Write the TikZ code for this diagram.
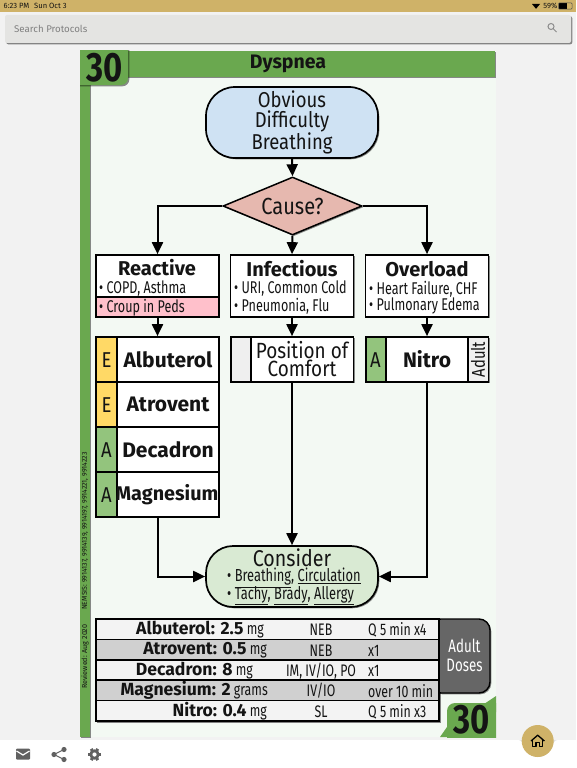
\documentclass[tikz,border=0pt]{standalone}
\usepackage{fontspec}
\usetikzlibrary{shapes.geometric,arrows.meta,shadows,calc}
\setmainfont{Fira Sans}[FakeStretch=0.8]
\newfontfamily\wide{Fira Sans}
\newfontfamily\nar{Fira Sans}[FakeStretch=0.74]
\newfontfamily\midf{Fira Sans}[FakeStretch=0.86]
\newcommand{\fs}[1]{\fontsize{#1}{#1}\selectfont}
\definecolor{pagebg}{HTML}{F2F2F2}
\definecolor{gold}{HTML}{CFB268}
\definecolor{cardbg}{HTML}{F3F9F3}
\definecolor{band}{HTML}{6AA84F}
\definecolor{startblue}{HTML}{CFE2F3}
\definecolor{causered}{HTML}{E6B8AF}
\definecolor{cons}{HTML}{D9EAD3}
\definecolor{pinkrow}{HTML}{FFC0CB}
\definecolor{emt}{HTML}{FFD966}
\definecolor{adv}{HTML}{93C47D}
\definecolor{lightcol}{HTML}{EFEFEF}
\definecolor{rowa}{HTML}{F3F3F3}
\definecolor{rowb}{HTML}{D0D0D0}
\definecolor{darkdose}{HTML}{666666}
\definecolor{searchbg}{HTML}{E4E4E2}
\tikzset{
  x=1pt,y=-1pt,
  flow/.style={line width=2pt,draw=black,-{Triangle[length=12pt,width=11pt]}},
  sh/.style={drop shadow={shadow xshift=1.3pt,shadow yshift=-1.3pt,fill=black,opacity=.45}},
  boxed/.style={draw=black,line width=1.7pt,inner sep=0pt,sh},
  txt/.style={inner sep=0pt,align=center,text=black!92},
  title/.style={txt,font=\wide\fs{20}\bfseries},
  drug/.style={txt,font=\wide\fs{21}\bfseries},
  lvl/.style={txt,font=\midf\fs{21.5}},
  bul/.style={txt,anchor=west,font=\nar\fs{17}},
  rowdrug/.style={txt,anchor=east,font=\wide\fs{17.6}\bfseries},
  rowmid/.style={txt,font=\nar\fs{16.7}},
  rowend/.style={txt,anchor=west,font=\nar\fs{16.7}},
  big/.style={txt,font=\fs{41}\bfseries},
  uiicon/.style={fill=black!62,draw=none},
}
\newcommand{\unitt}[1]{\nar\fs{16.7}\mdseries\ #1}
\begin{document}
\begin{tikzpicture}
\useasboundingbox (0,0) rectangle (576,768);
% app chrome
\fill[pagebg] (0,0) rectangle (576,768);
\fill[white] (0,740) rectangle (576,768);
\fill[gold] (0,0) rectangle (576,12.5);
\node[txt,anchor=west,font=\wide\fs{7.6}] (clock) at (3.5,6) {6:23 PM\hspace{5pt}Sun Oct 3};
\node[txt,anchor=east,font=\wide\fs{7.6}] (batt) at (557.5,6) {59\%};
\fill[black] (559,3.2) rectangle (567,8.8);
\draw[black!70,line width=.5pt,rounded corners=1pt] (558.5,2.8) rectangle (572,9.2);
\fill[black] (532,4) -- (540,4) -- (536,8.8) -- cycle;
\fill[sh,rounded corners=2pt,fill=searchbg] (5,15) rectangle (571,43);
\node[txt,anchor=west,font=\wide\fs{9.7},text=black!50] (search) at (14,29) {Search Protocols};
\draw[black!45,line width=1pt] (551,26.5) circle (3pt) (553.3,28.8) -- (556.5,32);
% card
\fill[cardbg] (80,51) rectangle (496,737);
\fill[band,sh] (80,51) rectangle (495,77);
\fill[band,sh] (80,77) rectangle (90,737);
\begin{scope}
\clip (80,51) rectangle (496,737);
\fill[band,sh,rounded corners=7pt] (60,35) rectangle (128,85);
\fill[band,rounded corners=8pt] (447,703) rectangle (520,760);
\fill[band] (440,737) -- (447,727) -- (460,737) -- cycle;
\fill[band] (484,704) -- (496,696) -- (496,712) -- cycle;
\end{scope}
\node[big] (num1) at (104.5,67.5) {30};
\node[big] (num2) at (471.5,720) {30};
\node[txt,font=\wide\fs{19.5}\bfseries] (head) at (288,64) {Dyspnea};
\node[txt,rotate=90,anchor=west,font=\wide\fs{7.2}] (rev) at (85,689) {Reviewed: Aug 2020};
\node[txt,rotate=90,anchor=west,font=\wide\fs{7}] (nem) at (85,610) {NEMSIS: 9914137, 9914139, 9914197, 9914221, 9914223};
% start, cause
\node[boxed,fill=startblue,rounded corners=29pt,minimum width=172pt,minimum height=71pt,align=center,text=black!92,font=\midf\fontsize{21.5}{19.5}\selectfont] (start) at (292,122.5) {Obvious\\Difficulty\\Breathing};
\node[diamond,aspect=2.4,draw=black,line width=1.5pt,fill=causered,sh,minimum width=139pt,minimum height=58pt,inner sep=0pt,text=black!92,font=\midf\fs{23.3}] (cause) at (292.5,206) {Cause?};
% reactive
\node[boxed,fill=white,minimum width=123pt,minimum height=62pt] (react) at (157.5,286) {};
\draw[fill=pinkrow,line width=1.7pt] (96,297) rectangle (219,317);
\node[title] (reactt) at (157,268) {Reactive};
\node[bul] (r1) at (99,288.5) {• COPD, Asthma};
\node[bul] (r2) at (99,307.5) {• Croup in Peds};
% infectious
\node[boxed,fill=white,minimum width=123pt,minimum height=62pt] (inf) at (292,286) {};
\node[title] (inft) at (292,269) {Infectious};
\node[bul] (i1) at (234,289) {• URI, Common Cold};
\node[bul] (i2) at (234,306) {• Pneumonia, Flu};
% overload
\node[boxed,fill=white,minimum width=123pt,minimum height=62pt] (over) at (427,286) {};
\node[title] (overt) at (427,269) {Overload};
\node[bul] (o1) at (369,289) {• Heart Failure, CHF};
\node[bul] (o2) at (369,306) {• Pulmonary Edema};
% drug stack
\node[boxed,fill=white,minimum width=123pt,minimum height=180pt] (stack) at (157.5,427) {};
\fill[emt] (96,337) rectangle (117,427);
\fill[adv] (96,427) rectangle (117,517);
\draw[line width=1.7pt] (96,337) rectangle (219,517);
\draw[line width=1.7pt] (117,337) -- (117,517) (96,382) -- (219,382) (96,427) -- (219,427) (96,472) -- (219,472);
\node[lvl] (l1) at (106.5,360.5) {E};
\node[lvl] (l2) at (106.5,405) {E};
\node[lvl] (l3) at (106.5,450) {A};
\node[lvl] (l4) at (106.5,495) {A};
\node[drug] (d1) at (168,359.5) {Albuterol};
\node[drug] (d2) at (168,404.5) {Atrovent};
\node[drug] (d3) at (168,449.5) {Decadron};
\node[txt,font=\wide\fs{19.8}\bfseries] (d4) at (167,494.5) {Magnesium};
% position
\node[boxed,fill=white,minimum width=123pt,minimum height=45pt] (pos) at (292,359.5) {};
\draw[fill=lightcol,line width=1.7pt] (231,337) rectangle (251,382);
\node[txt,font=\midf\fontsize{22}{18}\selectfont] (post) at (302,359.5) {Position of\\Comfort};
% nitro
\node[boxed,fill=white,minimum width=123pt,minimum height=45pt] (nitro) at (427,359.5) {};
\draw[fill=adv,line width=1.7pt] (366,337) rectangle (386,382);
\draw[fill=lightcol,line width=1.7pt] (468,337) rectangle (488.5,382);
\node[lvl] (l5) at (375.5,360.5) {A};
\node[drug] (d5) at (427,359.5) {Nitro};
\node[txt,rotate=90,font=\fs{18.5}] (adult) at (478,359.5) {Adult};
% consider
\node[boxed,fill=cons,rounded corners=27pt,minimum width=172pt,minimum height=61pt] (cons) at (292,576.5) {};
\node[txt,font=\midf\fs{22.8}] (const) at (292,557.5) {Consider};
\node[bul,font=\nar\fs{17.4}] (c1) at (227,578) {• \underline{Breathing}, \underline{Circulation}};
\node[bul,font=\nar\fs{17.4}] (c2) at (227,595.5) {• \underline{Tachy}, \underline{Brady}, \underline{Allergy}};
% table
\fill[black!50] (97,621) rectangle (441,723);
\draw[black,line width=1.4pt,fill=darkdose,sh,rounded corners=11pt] (430,619) rectangle (490,693);
\foreach \i/\c in {0/rowa,1/rowb,2/rowa,3/rowb,4/rowa}{
  \draw[line width=1.5pt,fill=\c] (96,619+20.4*\i) rectangle (439,619+20.4*\i+20.4);
}
\node[txt,text=white,font=\nar\fontsize{18}{19}\selectfont] (dose) at (464.5,655.5) {Adult\\Doses};
\node[rowdrug] (da) at (264,629.5) {Albuterol: 2.5\unitt{mg}};
\node[rowdrug] (db) at (267,650) {Atrovent: 0.5\unitt{mg}};
\node[rowdrug] (dc) at (253,670.5) {Decadron: 8\unitt{mg}};
\node[rowdrug] (dd) at (268,690.5) {Magnesium: 2\unitt{grams}};
\node[rowdrug] (de) at (267,711) {Nitro: 0.4\unitt{mg}};
\node[rowmid] (ma) at (321,630) {NEB};
\node[rowmid] (mb) at (321,650.5) {NEB};
\node[rowmid] (mc) at (321,671) {IM, IV/IO, PO};
\node[rowmid] (md) at (321,691) {IV/IO};
\node[rowmid] (me) at (321,711.5) {SL};
\node[rowend] (ea) at (368,630) {Q 5 min x4};
\node[rowend] (eb) at (368,650.5) {x1};
\node[rowend] (ec) at (368,671) {x1};
\node[rowend] (ed) at (368,691) {over 10 min};
\node[rowend] (ee) at (368,711.5) {Q 5 min x3};
% connectors
\draw[flow] (start.south) -- (cause.north);
\draw[flow] (cause.south) -- (inf.north);
\draw[flow] (cause.west) -| (react.north);
\draw[flow] (cause.east) -| (over.north);
\draw[flow] (react.south) -- (stack.north);
\draw[flow] (inf.south) -- (pos.north);
\draw[flow] (over.south) -- (nitro.north);
\draw[flow] (pos.south) -- (cons.north);
\draw[flow] (stack.south) |- (cons.west);
\draw[flow] (nitro.south) |- (cons.east);
% bottom bar
\fill[black!12] (519,740) .. controls (525,740) and (523,757) .. (538,757) .. controls (553,757) and (551,740) .. (557,740) -- cycle;
\fill[gold] (537.7,741) circle (16);
\draw[black,line width=1.3pt,line join=round] (531,741) -- (537.7,735.2) -- (544.4,741);
\draw[black,line width=1.3pt,line join=round] (532.8,740) -- (532.8,746.5) -- (536,746.5) -- (536,742.5) -- (539.4,742.5) -- (539.4,746.5) -- (542.6,746.5) -- (542.6,740);
\fill[uiicon,rounded corners=1pt] (16,748.5) rectangle (30,759.5);
\draw[white,line width=1.2pt] (16.5,751) -- (23,755) -- (29.5,751);
\draw[black!62,line width=1.1pt] (64,749.5) -- (54,754.5) -- (64,759.5);
\fill[uiicon] (64,749.5) circle (2.6) (54,754.5) circle (2.6) (64,759.5) circle (2.6);
\foreach \a in {0,60,120}{\draw[black!62,line width=3pt] ($(94.5,754.5)+(\a:6.5)$) -- ($(94.5,754.5)+(\a+180:6.5)$);}
\fill[uiicon] (94.5,754.5) circle (5.2);
\fill[white] (94.5,754.5) circle (2.1);
\end{tikzpicture}
\end{document}
